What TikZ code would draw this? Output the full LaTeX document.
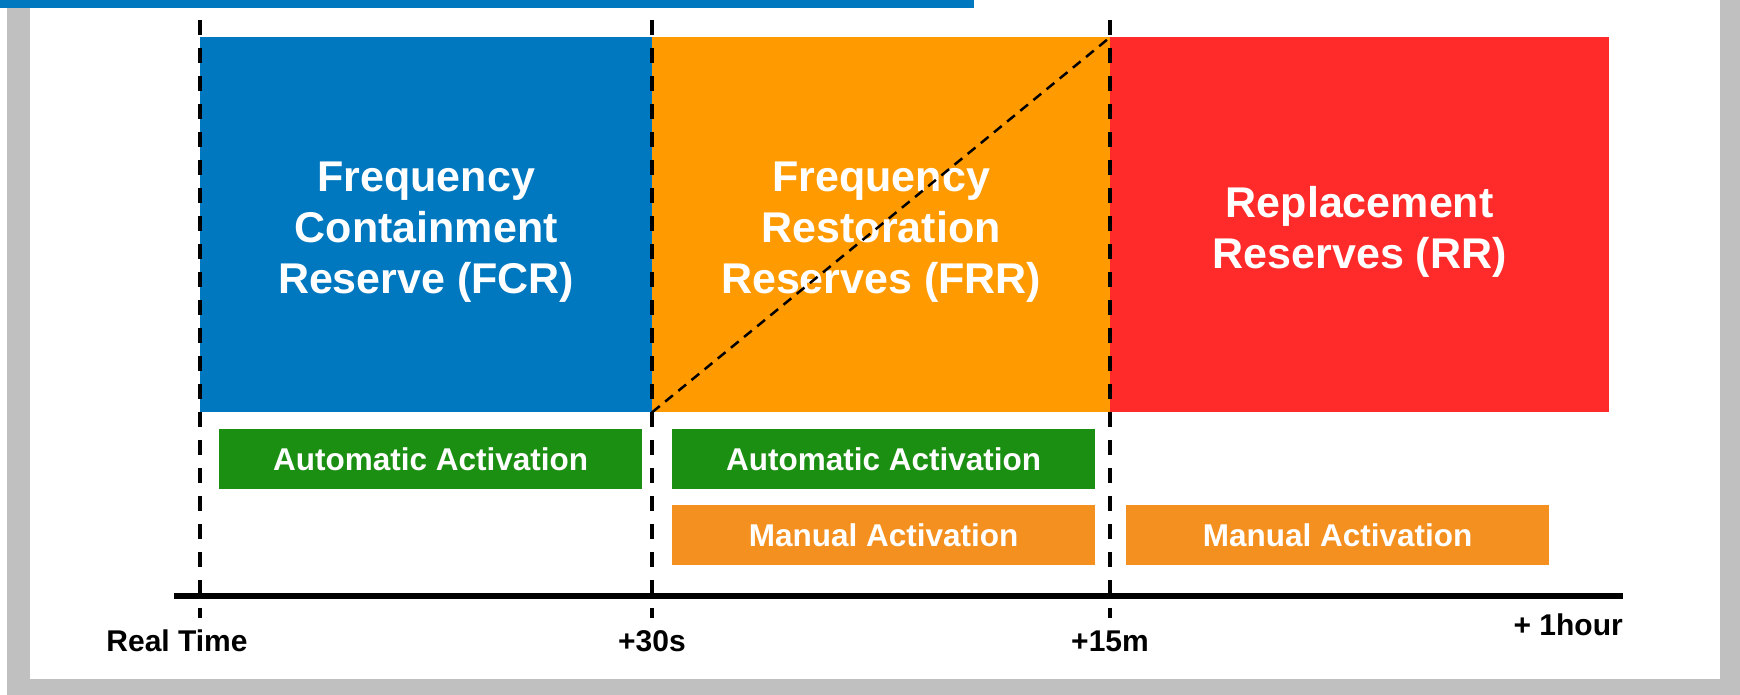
\documentclass[tikz,border=0pt]{standalone}
\usepackage{fontspec}
\setmainfont{Liberation Sans}
\definecolor{fcrblue}{RGB}{0,120,192}
\definecolor{frrorange}{RGB}{255,154,0}
\definecolor{rrred}{RGB}{255,42,42}
\definecolor{actgreen}{RGB}{26,143,18}
\definecolor{manorange}{RGB}{244,144,32}
\definecolor{framegray}{RGB}{192,192,192}
\begin{document}
\begin{tikzpicture}[x=1pt,y=-1pt,
  blk/.style={draw=none,inner sep=0pt,anchor=north west},
  blktext/.style={inner sep=0pt,text=white,align=center,yshift=-7pt,
    font=\fontsize{43}{51}\selectfont\bfseries},
  act/.style={draw=none,inner sep=0pt,anchor=north west,text=white,minimum width=423pt,minimum height=60pt,
    font=\fontsize{31.5}{36}\selectfont\bfseries},
  tlabel/.style={inner sep=0pt,text=black,font=\fontsize{30}{34}\selectfont\bfseries},
  vdash/.style={line width=3.5pt,dash pattern=on 15pt off 13pt},
  ddash/.style={line width=2.5pt,dash pattern=on 10pt off 7pt}]
\useasboundingbox (0,0) rectangle (1740,695);
% frame
\fill[framegray] (7,0) rectangle (1740,695);
\fill[white] (30,0) rectangle (1720,679);
\fill[fcrblue] (0,0) rectangle (974,8);
% blocks
\node[blk,fill=fcrblue,minimum width=452pt,minimum height=375pt] (fcr) at (200,37) {};
\node[blk,fill=frrorange,minimum width=458pt,minimum height=375pt] (frr) at (652,37) {};
\node[blk,fill=rrred,minimum width=499pt,minimum height=375pt] (rr) at (1110,37) {};
\node[blktext] (fcrt) at (fcr.center) {Frequency\\Containment\\Reserve (FCR)};
\node[blktext] (frrt) at (frr.center) {Frequency\\Restoration\\Reserves (FRR)};
\node[blktext] (rrt) at (rr.center) {Replacement\\Reserves (RR)};
% activation boxes
\node[act,fill=actgreen] (a1) at (219,429) {Automatic Activation};
\node[act,fill=actgreen] (a2) at (672,429) {Automatic Activation};
\node[act,fill=manorange] (m1) at (672,505) {Manual Activation};
\node[act,fill=manorange] (m2) at (1126,505) {Manual Activation};
% diagonal
\draw[ddash] (frr.south west) -- (frr.north east);
% axis
\coordinate (axl) at (174,596);
\coordinate (axr) at (1623,596);
\draw[line width=6pt] (axl) -- (axr);
% vertical dashed lines
\coordinate (v1t) at (200,20); \coordinate (v1b) at (200,618);
\coordinate (v2t) at (652,20); \coordinate (v2b) at (652,618);
\coordinate (v3t) at (1110,20); \coordinate (v3b) at (1110,618);
\draw[vdash] (v1t) -- (v1b);
\draw[vdash] (v2t) -- (v2b);
\draw[vdash] (v3t) -- (v3b);
% labels
\node[tlabel] (lrt) at (177,641) {Real Time};
\node[tlabel] (l30) at (652,641) {+30s};
\node[tlabel] (l15) at (1110,641) {+15m};
\node[tlabel,anchor=east] (l1h) at (1623,625) {+ 1hour};
\end{tikzpicture}
\end{document}
